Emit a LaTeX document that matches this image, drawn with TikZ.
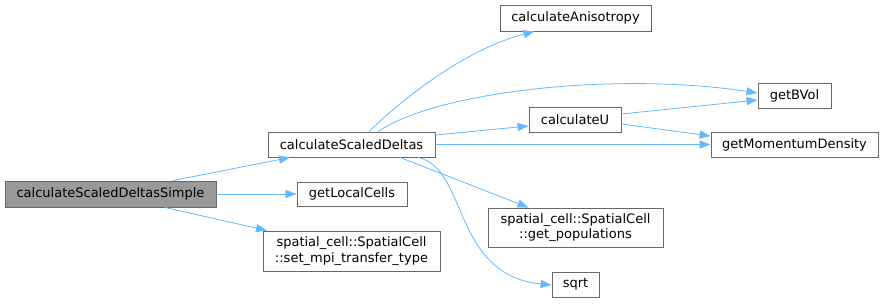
\documentclass[tikz,border=0pt]{standalone}
\usepackage{fontspec}
\setmainfont{DejaVu Sans}
\usetikzlibrary{arrows.meta,calc}
\definecolor{edgeblue}{HTML}{63B8FF}
\definecolor{boxline}{HTML}{666666}
\definecolor{boxgray}{HTML}{999999}
\begin{document}
\begin{tikzpicture}[x=1pt,y=-1pt,
  fn/.style={draw=boxline,fill=white,line width=0.9pt,inner sep=0pt,font=\fontsize{13}{15.5}\selectfont,align=center},
  link/.style={draw=edgeblue,line width=0.8pt,-{Triangle[length=11pt,width=8pt]}}]
\useasboundingbox (0,0) rectangle (884,303);
\node[fn,fill=boxgray,minimum width=211pt,minimum height=26pt] (simple) at (110.5,194) {calculateScaledDeltasSimple};
\node[fn,minimum width=167pt,minimum height=25pt] (csd) at (351.5,144.5) {calculateScaledDeltas};
\node[fn,minimum width=151pt,minimum height=26pt] (aniso) at (575.5,18) {calculateAnisotropy};
\node[fn,minimum width=92pt,minimum height=25pt] (calcu) at (575,119.5) {calculateU};
\node[fn,minimum width=73pt,minimum height=25pt] (bvol) at (794.5,95.5) {getBVol};
\node[fn,minimum width=167pt,minimum height=25pt] (mom) at (794.5,144.5) {getMomentumDensity};
\node[fn,minimum width=110pt,minimum height=24pt] (local) at (352,194) {getLocalCells};
\node[fn,minimum width=177pt,minimum height=40pt] (setmpi) at (351.5,251) {spatial\_cell::SpatialCell\\::set\_mpi\_transfer\_type};
\node[fn,minimum width=175pt,minimum height=39pt] (getpop) at (575.5,227.5) {spatial\_cell::SpatialCell\\::get\_populations};
\node[fn,minimum width=47pt,minimum height=25pt] (sqrt) at (575.5,284.5) {sqrt};

% simple -> ...
\draw[link] ([xshift=62.5pt]simple.north) -- ([xshift=-61.5pt]csd.south);
\draw[link] (simple.east) -- (local.west);
\draw[link] ([xshift=54.5pt]simple.south) -- ([xshift=-84.5pt]setmpi.north);
% csd -> ...
\draw[link] ([xshift=17.5pt]csd.north) .. controls (410,92) and (470,48) .. ([xshift=-41pt]aniso.south);
\draw[link] ([xshift=26.5pt]csd.north) .. controls (440,90) and (620,72) .. ([yshift=2.5pt]bvol.west);
\draw[link] ([yshift=9.5pt]csd.east) -- ([yshift=-6.5pt]calcu.west);
\draw[link] (csd.east) -- (mom.west);
\draw[link] ([xshift=48.5pt]csd.south) -- ([xshift=-47pt]getpop.north);
\draw[link] ([xshift=66.5pt]csd.south) .. controls (468,168) and (452,275) .. ([yshift=-0.5pt]sqrt.west);
% calcU -> ...
\draw[link] ([yshift=5.5pt]calcu.east) -- ([yshift=-4.5pt]bvol.west);
\draw[link] ([yshift=-4.5pt]calcu.east) -- ([yshift=8.5pt]mom.west);
\end{tikzpicture}
\end{document}
